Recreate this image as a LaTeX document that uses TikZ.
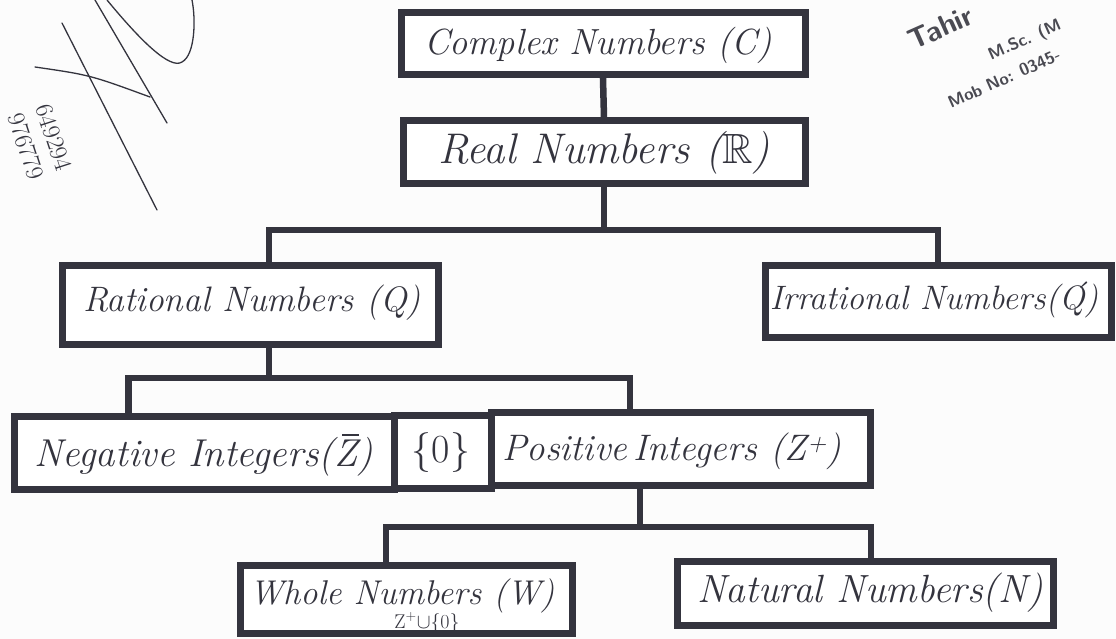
\documentclass[tikz,border=0pt]{standalone}
\usepackage{amssymb}
\usepackage{graphicx}
\definecolor{ink}{HTML}{34343E}
\definecolor{paper}{HTML}{FCFCFC}
\definecolor{stamp}{HTML}{4A4A52}
\newcommand{\zbarmark}{\leavevmode\rlap{\kern0.2em\raisebox{0.8em}{\rule{0.42em}{0.05em}}}Z}
\newcommand{\qacutemark}{\leavevmode\rlap{\kern0.3em\raisebox{0.12em}{\textasciiacute}}Q}
\newcommand{\bbRmark}{\resizebox{!}{0.68em}{$\mathbb{R}$}}
\begin{document}
\begin{tikzpicture}[x=1bp,y=-1bp,
  box/.style={draw=ink, line width=7bp, fill=white, inner sep=0pt, text=ink},
  link/.style={draw=ink, line width=6.5bp, line cap=rect},
  lbl/.style={text=ink, font=\fontsize{#1}{#1}\selectfont\itshape},
  stampt/.style={text=stamp, rotate=24, anchor=base west},
  sig/.style={draw=ink, line width=1.3bp, line cap=round}]
\useasboundingbox (0,0) rectangle (1116,639);
\fill[paper] (0,0) rectangle (1116,639);
\begin{scope}
\clip (0,0) rectangle (1116,639);
% stamp and notes from the scan
\node[stampt, font=\sffamily\bfseries\fontsize{29}{29}\selectfont] (st1) at (910,52) {Tahir};
\node[stampt, font=\sffamily\bfseries\fontsize{17}{17}\selectfont] (st2) at (988,62) {M.Sc. (M};
\node[stampt, font=\sffamily\bfseries\fontsize{17}{17}\selectfont] (st3) at (948,110) {Mob No: 0345-};
\node[text=ink, font=\fontsize{25}{29}\selectfont, rotate=-72, align=center] (n1) at (40,142) {649294\\976779};
% signature
\draw[sig] (62,23) -- (157,210);
\draw[sig] (35,67) .. controls (90,75) .. (150,97);
\draw[sig] (95,0) -- (167,123);
\draw[sig] (107,0) .. controls (140,40) and (170,70) .. (182,62) .. controls (195,55) and (196,20) .. (192,0);
\end{scope}

% boxes
\node[box, minimum width=404bp, minimum height=62bp] (C) at (603,44) {};
\node[lbl=36.5] (Ct) at (598,45) {Complex Numbers (C)};
\node[box, minimum width=402bp, minimum height=63bp] (R) at (604,152.5) {};
\node[lbl=43] (Rt) at (604,153) {Real Numbers (\bbRmark)};
\node[box, minimum width=375bp, minimum height=78bp] (Q) at (250.5,305) {};
\node[lbl=35.5] (Qt) at (252,303) {Rational Numbers (Q)};
\node[box, minimum width=346bp, minimum height=71bp] (Qp) at (938,301.5) {};
\node[lbl=34] (Qpt) at (934,300) {Irrational Numbers(\qacutemark)};
\node[box, minimum width=379.5bp, minimum height=73bp] (Neg) at (204.25,452.5) {};
\node[lbl=39] (Negt) at (204,455) {Negative Integers(\zbarmark)};
\node[box, minimum width=97bp, minimum height=73bp] (Z0) at (442.5,451.5) {};
\node[font=\fontsize{40}{40}\selectfont, text=ink] (Z0t) at (441,453) {\{0\}};
\node[box, minimum width=379.5bp, minimum height=73bp] (Pos) at (681,448.5) {};
\node[lbl=37] (Post) at (672,451) {Positive\,Integers (Z\textsuperscript{+})};
\node[box, minimum width=332bp, minimum height=68bp] (W) at (406,599) {};
\node[lbl=34.5] (Wt) at (402,596) {Whole Numbers (W)};
\node[text=ink, font=\fontsize{20}{20}\selectfont] (Ws) at (427,623) {Z\textsuperscript{+}$\cup$\{0\}};
\node[box, minimum width=376bp, minimum height=64bp] (N) at (865,593) {};
\node[lbl=39.5] (Nt) at (870,593) {Natural Numbers(N)};

% connectors
\coordinate (b1) at (0,230);
\coordinate (b2) at (0,378);
\coordinate (b3) at (0,527);
\draw[link] (C.south) -- (R.north);
\draw[link] (R.south) -- (R.south |- b1);
\draw[link] ([xshift=18.5bp]Q.north) |- (R.south |- b1) -| (Qp.north);
\draw[link] ([xshift=18.5bp]Q.south) -- ([xshift=18.5bp]Q.south |- b2);
\draw[link] ([xshift=-76bp]Neg.north) |- ([xshift=18.5bp]Q.south |- b2) -| ([xshift=-51bp]Pos.north);
\draw[link] ([xshift=-41bp]Pos.south) -- ([xshift=-41bp]Pos.south |- b3);
\draw[link] ([xshift=-20bp]W.north) |- ([xshift=-41bp]Pos.south |- b3) -| ([xshift=6bp]N.north);
\end{tikzpicture}
\end{document}
